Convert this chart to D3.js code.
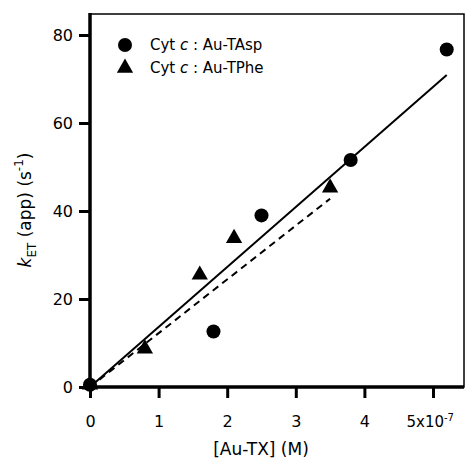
<!DOCTYPE html>
<html><head><meta charset="utf-8">
<script src="https://cdn.jsdelivr.net/npm/d3@7"></script>
<style>body{margin:0;background:#fff}svg{display:block}text{font-family:"DejaVu Sans",sans-serif;fill:#000}</style>
</head><body>
<script>
// Data (x in units of 1e-7 M)
const aspX = [0, 1.8, 2.5, 3.8, 5.2];
const aspY = [0.5, 12.6, 39, 51.6, 76.7];
const pheX = [0, 0.8, 1.6, 2.1, 3.5];
const pheY = [0.5, 8.7, 25.5, 33.8, 45.3];
const fitAsp = [[0, 0], [5.2, 70.9]];
const fitPhe = [[0, 0], [3.5, 42.8]];
const xTicks = [0, 1, 2, 3, 4, 5];
const yTicks = [0, 20, 40, 60, 80];

const W = 466, H = 462;
const svg = d3.select("body").append("svg").attr("width", W).attr("height", H);
const x = d3.scaleLinear().domain([0, 5]).range([90, 433]);
const y = d3.scaleLinear().domain([0, 80]).range([387, 35]);
const x0 = 90, x1 = 464, y0 = 387, y1 = 14;

// frame
svg.append("rect").attr("x", x0).attr("y", y1).attr("width", x1 - x0).attr("height", y0 - y1)
  .attr("fill", "none").attr("stroke", "#000").attr("stroke-width", 1.5);

// axes
const xa = svg.append("g").attr("transform", `translate(0,${y0})`)
  .call(d3.axisBottom(x).tickValues(xTicks).tickSize(11).tickSizeOuter(0).tickPadding(18)
    .tickFormat(d => d === 5 ? "" : d));
const ya = svg.append("g").attr("transform", `translate(${x0},0)`)
  .call(d3.axisLeft(y).tickValues(yTicks).tickSize(11).tickSizeOuter(0).tickPadding(6));
[xa, ya].forEach(g => {
  g.select(".domain").remove();
  g.selectAll("line").attr("stroke-width", 3);
  g.selectAll("text").attr("font-size", 16).attr("font-family", "DejaVu Sans");
});
svg.append("line").attr("x1", x0 - 1).attr("x2", x1).attr("y1", y0).attr("y2", y0).attr("stroke", "#000").attr("stroke-width", 3.5);
svg.append("line").attr("x1", x0).attr("x2", x0).attr("y1", y1 - 1).attr("y2", y0 + 1.5).attr("stroke", "#000").attr("stroke-width", 3.5);

// 5x10^-7 label
const t5 = xa.select(".tick:last-of-type text");
t5.text(null).attr("font-size", 15).attr("text-anchor", "start").attr("x", -27);
t5.append("tspan").text("5x10");
t5.append("tspan").attr("dy", "-0.55em").attr("font-size", 10).text("-7");

// fit lines
const line = d3.line().x(d => x(d[0])).y(d => y(d[1]));
svg.append("path").attr("d", line(fitAsp)).attr("fill", "none").attr("stroke", "#000").attr("stroke-width", 2);
svg.append("path").attr("d", line(fitPhe)).attr("fill", "none").attr("stroke", "#000").attr("stroke-width", 2)
  .attr("stroke-dasharray", "7,5");

// points
const circ = d3.symbol().type(d3.symbolCircle).size(155);
const tri = d3.symbol().type(d3.symbolTriangle).size(115);
svg.selectAll(".asp").data(aspX.map((v, i) => [v, aspY[i]])).join("path")
  .attr("d", circ).attr("transform", d => `translate(${x(d[0])},${y(d[1])})`).attr("fill", "#000");
svg.selectAll(".phe").data(pheX.map((v, i) => [v, pheY[i]])).join("path")
  .attr("d", tri).attr("transform", d => `translate(${x(d[0])},${y(d[1])})`).attr("fill", "#000");

// legend
const leg = [["Au-TAsp", circ, 45], ["Au-TPhe", tri, 68]];
leg.forEach(([name, sym, ly]) => {
  svg.append("path").attr("d", sym).attr("transform", `translate(125,${ly})`).attr("fill", "#000");
  const t = svg.append("text").attr("x", 150).attr("y", ly + 5).attr("font-size", 15);
  t.append("tspan").text("Cyt ");
  t.append("tspan").attr("font-style", "italic").text("c");
  t.append("tspan").text(" : " + name);
});

// axis titles
svg.append("text").attr("x", 261).attr("y", 455).attr("text-anchor", "middle").attr("font-size", 17)
  .text("[Au-TX] (M)");
const yl = svg.append("text").attr("transform", "translate(31,210) rotate(-90)").attr("text-anchor", "middle").attr("font-size", 17);
yl.append("tspan").attr("font-style", "italic").text("k");
yl.append("tspan").attr("font-size", 12).attr("dy", 5).text("ET");
yl.append("tspan").attr("dy", -5).text(" (app) (s");
yl.append("tspan").attr("font-size", 12).attr("dy", -8).text("-1");
yl.append("tspan").attr("dy", 8).text(")");
</script>
</body></html>
